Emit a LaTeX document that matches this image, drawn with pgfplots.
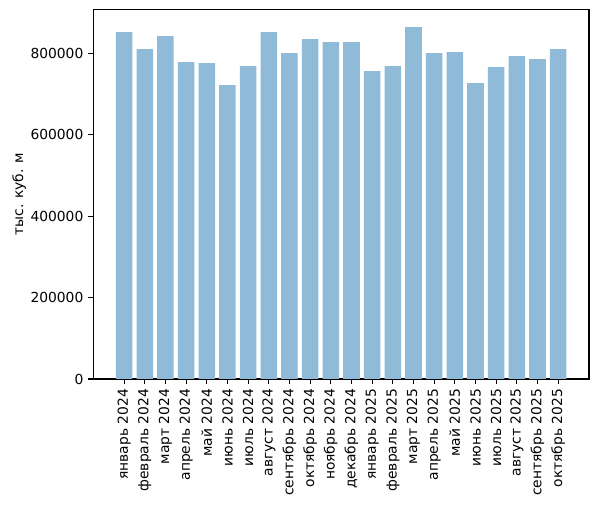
\documentclass[border=0pt]{standalone}
\usepackage{fontspec}
\setmainfont{DejaVu Sans}
\usepackage{pgfplots}
\pgfplotsset{compat=1.18}
\definecolor{barblue}{RGB}{143,187,217}

\pgfplotstableread{
x val
0 852000
1 810500
2 842400
3 778500
4 776100
5 722000
6 768700
7 852000
8 800600
9 835000
10 827700
11 827700
12 756400
13 768700
14 864500
15 800600
16 803100
17 727000
18 766300
19 793300
20 785900
21 810500
}\gasdata

\begin{document}
\begin{tikzpicture}
\path[use as bounding box] (-67.2bp,-91.4bp) rectangle (363.4bp,272.9bp);
\begin{axis}[
    at={(0,0)}, anchor=south west,
    scale only axis,
    width=356.9bp, height=266.2bp,
    ybar, bar width=0.8,
    xmin=-1.49, xmax=22.49,
    ymin=0, ymax=908000,
    xtick={0,...,21},
    xticklabels={январь 2024, февраль 2024, март 2024, апрель 2024, май 2024, июнь 2024, июль 2024, август 2024, сентябрь 2024, октябрь 2024, ноябрь 2024, декабрь 2024, январь 2025, февраль 2025, март 2025, апрель 2025, май 2025, июнь 2025, июль 2025, август 2025, сентябрь 2025, октябрь 2025},
    ytick={0,200000,400000,600000,800000},
    scaled y ticks=false,
    yticklabel style={/pgf/number format/fixed, /pgf/number format/1000 sep={}},
    /pgf/number format/assume math mode=true,
    tick label style={font=\fontsize{10}{12}\selectfont, text=black},
    xticklabel style={rotate=90, anchor=east, inner sep=0pt, xshift=-3.5bp},
    yticklabel style={anchor=east, inner sep=0pt, xshift=-3.5bp},
    tick align=outside,
    major tick length=3.5bp,
    tick style={line width=0.8bp, black},
    axis line style={line width=0.8bp},
    xtick pos=bottom, ytick pos=left,
    ylabel={тыс. куб. м},
    ylabel style={font=\fontsize{10}{12}\selectfont},
    every axis y label/.style={at={(axis description cs:0,0.5)}, rotate=90, anchor=south, yshift=45bp},
]
\addplot[fill=barblue, draw=none] table[x=x, y=val] {\gasdata};
\end{axis}
\end{tikzpicture}
\end{document}
